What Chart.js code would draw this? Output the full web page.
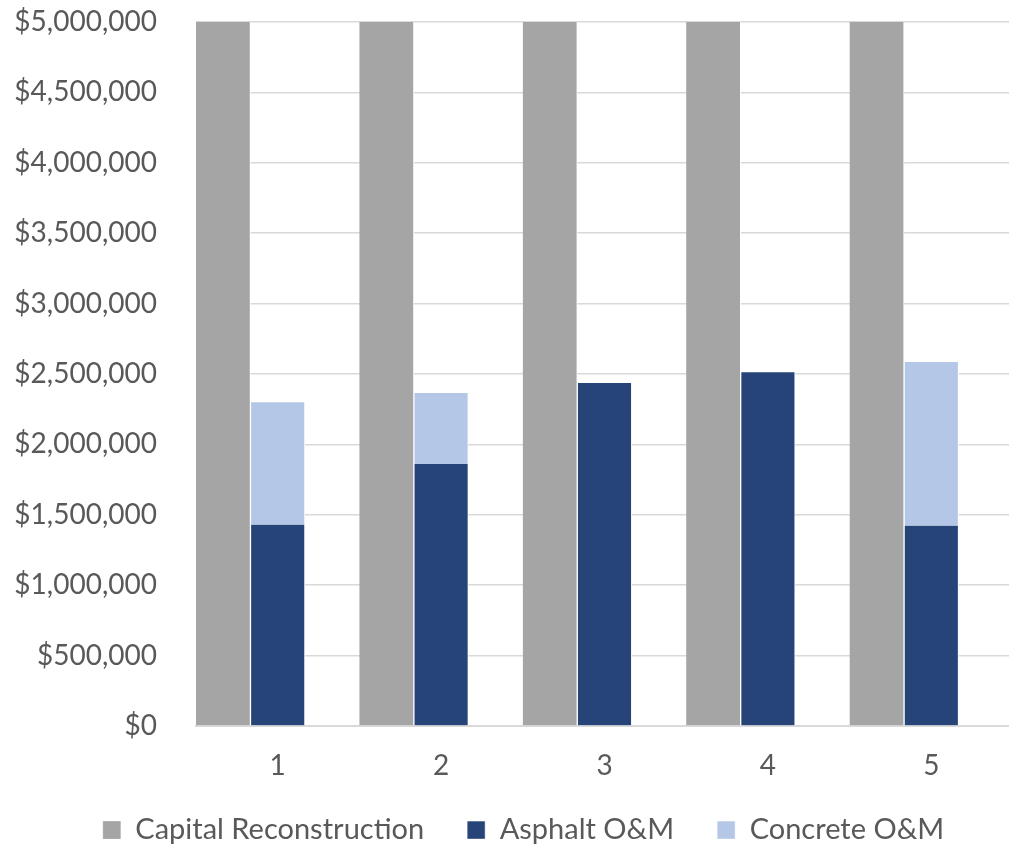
<!DOCTYPE html>
<html>
<head>
<meta charset="utf-8">
<script src="https://cdn.jsdelivr.net/npm/chart.js@4"></script>
<style>
  html, body { margin: 0; padding: 0; background: #fff; overflow: hidden; }
  #wrap { width: 1009px; height: 846px; overflow: hidden; }
</style>
</head>
<body>
<div id="wrap"><canvas id="chart" width="1049" height="846"></canvas></div>
<script>
const categories = ["1", "2", "3", "4", "5"];
const capital = [5000000, 5000000, 5000000, 5000000, 5000000];
const asphalt = [1430000, 1861000, 2436000, 2512000, 1423000];
const concrete = [869000, 504000, 0, 0, 1162000];
const spacer = [0, 0, 0, 0, 0];
const yTicks = [0, 500000, 1000000, 1500000, 2000000, 2500000, 3000000, 3500000, 4000000, 4500000, 5000000];

const textColor = '#595959';
const fontFamily = 'Lato, "Open Sans", sans-serif';

// nudge the legend into the spot it has in the original
const legendShift = {
  id: 'legendShift',
  afterLayout(chart) {
    const lg = chart.legend;
    lg.left += 15;
    lg.right += 15;
    lg.top -= 25;
    lg.bottom -= 25;
  }
};

new Chart(document.getElementById('chart'), {
  type: 'bar',
  data: {
    labels: categories,
    datasets: [
      {
        label: 'Capital Reconstruction',
        data: capital,
        backgroundColor: '#a5a5a5',
        borderColor: '#ffffff',
        borderWidth: { right: 1 },
        borderSkipped: 'bottom',
        stack: 'a'
      },
      {
        label: 'Asphalt O&M',
        data: asphalt,
        backgroundColor: '#264478',
        borderColor: '#ffffff',
        borderWidth: { left: 1, right: 1 },
        borderSkipped: 'bottom',
        stack: 'b'
      },
      {
        label: 'Concrete O&M',
        data: concrete,
        backgroundColor: '#b4c7e7',
        borderColor: '#ffffff',
        borderWidth: { left: 1, right: 1 },
        borderSkipped: 'bottom',
        stack: 'b'
      },
      {
        label: '',
        data: spacer,
        backgroundColor: 'rgba(0,0,0,0)',
        stack: 'c'
      }
    ]
  },
  plugins: [legendShift],
  options: {
    responsive: false,
    animation: false,
    layout: {
      padding: { left: 4, right: 36, top: 0, bottom: -33.6 }
    },
    datasets: {
      bar: {
        categoryPercentage: 1,
        barPercentage: 1
      }
    },
    scales: {
      x: {
        stacked: true,
        grid: { display: false },
        border: { display: true, color: '#d9d9d9', width: 2 },
        ticks: {
          color: textColor,
          font: { family: fontFamily, size: 28 },
          padding: 15
        }
      },
      y: {
        stacked: true,
        min: 0,
        max: 5000000,
        afterFit: function (scale) {
          scale.width = 192;
          scale.paddingTop = 22;
          scale.paddingBottom = 0;
        },
        afterBuildTicks: function (scale) {
          scale.ticks = yTicks.map(v => ({ value: v }));
        },
        grid: { color: '#d9d9d9', lineWidth: 1.5, drawTicks: false },
        border: { display: false },
        ticks: {
          color: textColor,
          font: { family: fontFamily, size: 28 },
          padding: 39,
          callback: function (value) {
            return '$' + Number(value).toLocaleString('en-US');
          }
        }
      }
    },
    plugins: {
      tooltip: { enabled: false },
      legend: {
        position: 'bottom',
        labels: {
          color: textColor,
          font: { family: fontFamily, size: 29 },
          boxWidth: 18,
          boxHeight: 18,
          padding: 43,
          filter: function (item) {
            return item.text !== '';
          }
        }
      }
    }
  }
});
</script>
</body>
</html>
